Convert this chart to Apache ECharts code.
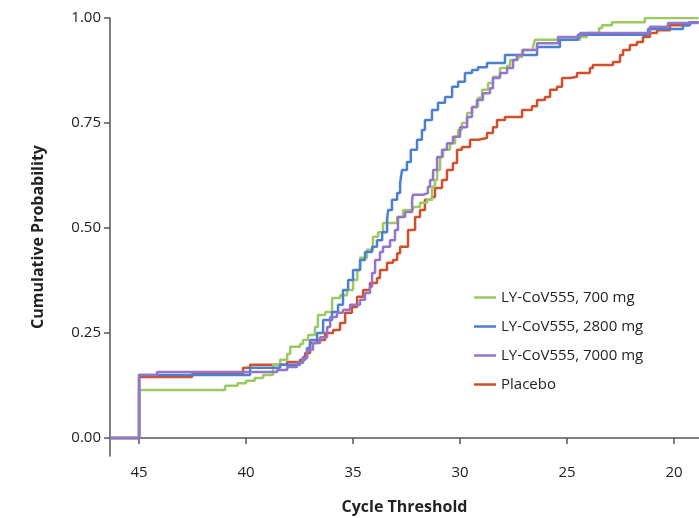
<!DOCTYPE html>
<html>
<head>
<meta charset="utf-8">
<script src="https://cdn.jsdelivr.net/npm/echarts@6/dist/echarts.min.js"></script>
<style>html,body{margin:0;padding:0;background:#fff;}#c{width:699px;height:518px;}</style>
</head>
<body>
<div id="c"></div>
<script>
const seriesNames = ['LY-CoV555, 700 mg', 'LY-CoV555, 2800 mg', 'LY-CoV555, 7000 mg', 'Placebo'];
const xTicks = [45, 40, 35, 30, 25, 20];
const yTicks = [0, 0.25, 0.5, 0.75, 1.0];

// [cycle threshold, cumulative probability]
const dose700 = [[46.35,0],[45,0.114],[40.98,0.124],[40.4,0.13],[40.0,0.136],[39.6,0.143],[39.2,0.15],[38.74,0.174],[38.41,0.186],[38.08,0.2],[37.94,0.217],[37.48,0.224],[37.34,0.233],[37.10,0.245],[36.78,0.264],[36.64,0.293],[36.3,0.3],[35.98,0.333],[35.6,0.34],[35.28,0.352],[35.0,0.376],[34.8,0.4],[34.67,0.429],[34.35,0.448],[34.07,0.479],[33.83,0.49],[33.60,0.512],[32.94,0.526],[32.66,0.543],[32.20,0.55],[31.87,0.56],[31.54,0.567],[31.31,0.598],[31.17,0.614],[31.07,0.638],[30.93,0.669],[30.79,0.686],[30.47,0.702],[30.23,0.717],[30.09,0.733],[29.91,0.75],[29.67,0.774],[29.44,0.788],[29.16,0.81],[28.97,0.829],[28.69,0.845],[28.46,0.86],[28.13,0.881],[27.8,0.886],[27.66,0.9],[27.29,0.907],[27.10,0.924],[26.59,0.931],[26.50,0.948],[24.39,0.955],[24.07,0.964],[23.5,0.976],[23.36,0.983],[22.90,0.99],[21.36,1.0],[18.85,1.0]];
const dose2800 = [[46.35,0],[45,0.15],[39.81,0.167],[38.41,0.174],[37.48,0.179],[37.34,0.193],[37.15,0.214],[37.01,0.233],[36.68,0.25],[36.40,0.281],[35.98,0.30],[35.70,0.317],[35.47,0.352],[35.23,0.376],[35.0,0.40],[34.67,0.424],[34.44,0.443],[34.11,0.455],[33.88,0.471],[33.64,0.49],[33.41,0.519],[33.36,0.543],[33.18,0.567],[32.94,0.583],[32.80,0.607],[32.71,0.638],[32.48,0.657],[32.30,0.686],[32.01,0.71],[31.78,0.733],[31.64,0.757],[31.31,0.781],[31.03,0.798],[30.70,0.812],[30.37,0.836],[30.09,0.848],[29.77,0.869],[29.44,0.876],[29.16,0.883],[28.74,0.893],[27.90,0.912],[26.40,0.931],[25.33,0.948],[24.49,0.96],[21.21,0.974],[19.58,0.983],[19.25,0.99],[18.85,0.99]];
const dose7000 = [[46.35,0],[45,0.15],[44.16,0.157],[38.55,0.162],[38.08,0.169],[37.62,0.179],[37.34,0.19],[37.15,0.21],[36.87,0.226],[36.54,0.24],[36.21,0.264],[36.07,0.288],[35.75,0.298],[35.47,0.305],[35.14,0.317],[34.67,0.329],[34.44,0.345],[34.21,0.36],[34.11,0.393],[33.97,0.424],[33.74,0.443],[33.60,0.455],[33.27,0.471],[33.04,0.495],[32.90,0.526],[32.57,0.538],[32.24,0.567],[32.20,0.579],[31.73,0.583],[31.50,0.598],[31.40,0.614],[31.26,0.638],[31.07,0.669],[30.84,0.686],[30.61,0.702],[30.33,0.717],[30.0,0.74],[29.67,0.764],[29.44,0.788],[29.21,0.805],[28.93,0.821],[28.60,0.833],[28.46,0.857],[28.13,0.869],[27.80,0.881],[27.52,0.9],[27.34,0.912],[27.06,0.924],[26.40,0.94],[25.42,0.955],[24.39,0.964],[21.12,0.979],[20.28,0.988],[18.85,0.988]];
const placebo = [[46.35,0],[45,0.145],[42.52,0.152],[40.14,0.167],[39.81,0.174],[38.08,0.181],[37.48,0.186],[37.24,0.202],[37.01,0.226],[36.68,0.233],[36.31,0.25],[35.93,0.257],[35.61,0.274],[35.37,0.298],[35.05,0.312],[34.81,0.336],[34.53,0.352],[34.21,0.369],[33.88,0.381],[33.74,0.40],[33.41,0.417],[33.13,0.424],[32.94,0.44],[32.80,0.455],[32.43,0.495],[32.10,0.526],[31.87,0.543],[31.64,0.567],[31.31,0.574],[31.17,0.595],[30.84,0.614],[30.61,0.638],[30.33,0.655],[30.14,0.686],[29.91,0.693],[29.53,0.71],[29.16,0.714],[28.74,0.726],[28.46,0.74],[28.27,0.757],[27.90,0.764],[27.10,0.781],[26.64,0.79],[26.40,0.805],[26.03,0.812],[25.79,0.829],[25.47,0.836],[25.23,0.857],[24.86,0.86],[24.53,0.869],[23.93,0.881],[23.79,0.888],[22.85,0.895],[22.52,0.912],[22.38,0.924],[22.06,0.936],[21.73,0.943],[21.45,0.955],[21.12,0.964],[20.79,0.971],[20.19,0.983],[19.3,0.99],[18.85,0.99]];

const colors = ['#9dc961', '#4b7fd0', '#9474cc', '#d1502b'];
const seriesData = [dose700, dose2800, dose7000, placebo];
const drawOrder = [3, 0, 1, 2];

const FONT = 'Open Sans';
const chart = echarts.init(document.getElementById('c'), null, {renderer: 'canvas'});
chart.setOption({
  animation: false,
  backgroundColor: '#fff',
  textStyle: {fontFamily: FONT},
  grid: {left: 110, right: 0, top: 18, bottom: 62, containLabel: false, outerBoundsMode: 'none'},
  legend: {
    orient: 'vertical',
    left: 469,
    top: 282,
    icon: 'rect',
    itemWidth: 22,
    itemHeight: 2.5,
    itemGap: 8,
    data: seriesNames,
    textStyle: {fontFamily: FONT, fontSize: 15, color: '#222', padding: [0, 0, 0, 0], lineHeight: 21}
  },
  xAxis: {
    type: 'value',
    inverse: true,
    min: 18.83,
    max: 46.36,
    name: 'Cycle Threshold',
    nameLocation: 'middle',
    nameGap: 43,
    nameTextStyle: {fontFamily: FONT, fontSize: 16, fontWeight: 'bold', color: '#222'},
    axisLine: {lineStyle: {color: '#555', width: 1.5}},
    axisTick: {show: true, length: 6, customValues: xTicks, lineStyle: {color: '#555', width: 1.5}},
    axisLabel: {customValues: xTicks, margin: 9, fontFamily: FONT, fontSize: 15, color: '#222'},
    splitLine: {show: false}
  },
  yAxis: {
    type: 'value',
    min: -0.043,
    max: 1.0,
    name: 'Cumulative Probability',
    nameLocation: 'middle',
    nameGap: 64,
    nameRotate: 90,
    nameTextStyle: {fontFamily: FONT, fontSize: 16, fontWeight: 'bold', color: '#222'},
    axisLine: {show: true, lineStyle: {color: '#555', width: 1.5}},
    axisTick: {show: true, length: 6, customValues: yTicks, lineStyle: {color: '#555', width: 1.5}},
    axisLabel: {customValues: yTicks, margin: 9, fontFamily: FONT, fontSize: 15, color: '#222',
      formatter: v => v.toFixed(2)},
    splitLine: {show: false}
  },
  series: drawOrder.map(i => ({
    name: seriesNames[i],
    type: 'line',
    step: 'end',
    data: seriesData[i],
    symbol: 'none',
    showSymbol: false,
    clip: true,
    z: 2 + drawOrder.indexOf(i),
    lineStyle: {color: colors[i], width: 2.5},
    itemStyle: {color: colors[i]}
  }))
});
</script>
</body>
</html>
